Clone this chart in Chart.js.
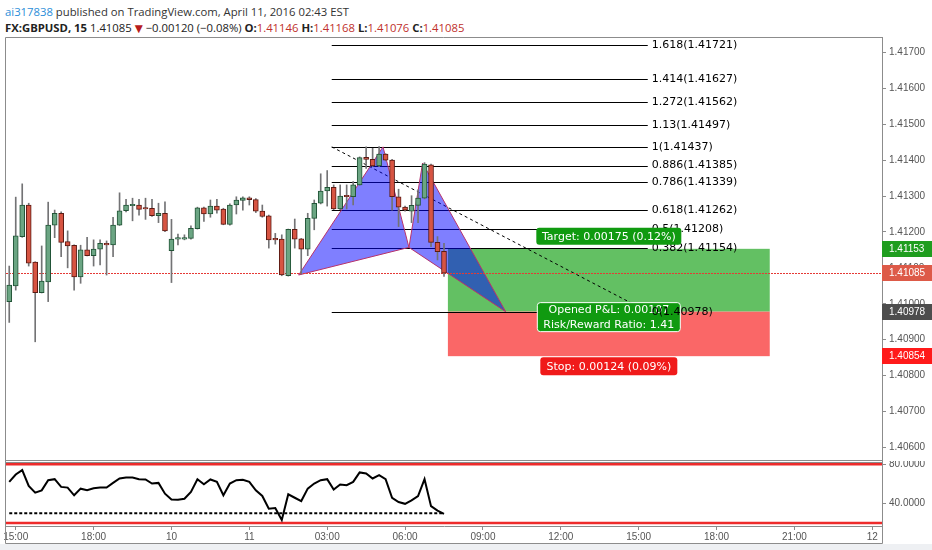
<!DOCTYPE html>
<html>
<head>
<meta charset="utf-8">
<script src="https://cdn.jsdelivr.net/npm/chart.js@4.4.0/dist/chart.umd.min.js"></script>
<style>
  body { margin: 0; width: 932px; height: 550px; overflow: hidden; position: relative; background: #fff; }
  .hdr { position: absolute; left: 5px; font-family: "Open Sans", "DejaVu Sans", sans-serif; font-size: 11.3px; color: #333; white-space: nowrap; }
  #h1 { top: 4px; }
  #h2 { top: 20px; color: #222; }
  #h2 b { font-weight: 700; }
  .user { color: #2b8ed8; }
  .r { color: #c0302b; }
  .dn { color: #b71c1c; font-family: "DejaVu Sans", sans-serif; font-size: 10.5px; }
  #main { position: absolute; left: 0; top: 37px; }
  #rsi { position: absolute; left: 0; top: 461px; }
  #foot { position: absolute; left: 0; top: 544px; width: 932px; height: 6px; background: #eef0f3; }
</style>
</head>
<body>
<div id="h1" class="hdr"><span class="user">ai317838</span> published on TradingView.com, April 11, 2016 02:43 EST</div>
<div id="h2" class="hdr"><b>FX:GBPUSD, 15</b> 1.41085 <span class="dn">▼</span> −0.00120 (−0.08%) <b>O:</b><span class="r">1.41146</span> <b>H:</b><span class="r">1.41168</span> <b>L:</b><span class="r">1.41076</span> <b>C:</b><span class="r">1.41085</span></div>
<canvas id="main" width="932" height="424"></canvas>
<canvas id="rsi" width="932" height="83"></canvas>
<div id="foot"></div>
<script>
// time axis: one unit = one 15 minute bar
const tickIdx = [1, 13, 25, 37, 49, 61, 73, 85, 97, 109, 121, 133];
const tickLabels = ['15:00', '18:00', '10', '11', '03:00', '06:00', '09:00', '12:00', '15:00', '18:00', '21:00', '12'];
const yTicks = [1.406, 1.407, 1.408, 1.409, 1.410, 1.411, 1.412, 1.413, 1.414, 1.415, 1.416, 1.417];
const rsiTicks = [40, 80];

// candles
const opens = [1.41006, 1.41050, 1.41187, 1.41275, 1.41116, 1.41031, 1.41061, 1.41219, 1.41252, 1.41173,
  1.41163, 1.41075, 1.41150, 1.41134, 1.41152, 1.41167, 1.41164, 1.41219, 1.41259, 1.41273,
  1.41275, 1.41266, 1.41266, 1.41245, 1.41252, 1.41148, 1.41180, 1.41180, 1.41182, 1.41209,
  1.41267, 1.41250, 1.41272, 1.41264, 1.41221, 1.41275, 1.41288, 1.41295, 1.41290, 1.41258,
  1.41245, 1.41180, 1.41180, 1.41078, 1.41207, 1.41181, 1.41152, 1.41238, 1.41280, 1.41314,
  1.41324, 1.41264, 1.41301, 1.41298, 1.41331, 1.41408, 1.41402, 1.41384, 1.41417, 1.41400,
  1.41298, 1.41269, 1.41258, 1.41274, 1.41294, 1.41387, 1.41171, 1.41146];
const highs = [1.41105, 1.41297, 1.41334, 1.41280, 1.41117, 1.41161, 1.41283, 1.41261, 1.41256, 1.41203,
  1.41164, 1.41163, 1.41185, 1.41178, 1.41178, 1.41175, 1.41241, 1.41309, 1.41291, 1.41294,
  1.41291, 1.41294, 1.41291, 1.41280, 1.41284, 1.41235, 1.41194, 1.41192, 1.41217, 1.41269,
  1.41269, 1.41289, 1.41291, 1.41266, 1.41278, 1.41298, 1.41298, 1.41298, 1.41293, 1.41275,
  1.41247, 1.41196, 1.41192, 1.41208, 1.41236, 1.41182, 1.41252, 1.41289, 1.41362, 1.41371,
  1.41331, 1.41331, 1.41331, 1.41340, 1.41409, 1.41437, 1.41433, 1.41438, 1.41418, 1.41402,
  1.41319, 1.41272, 1.41301, 1.41317, 1.41393, 1.41389, 1.41187, 1.41168];
const lows = [1.40948, 1.41038, 1.41185, 1.41105, 1.40894, 1.41030, 1.41006, 1.41184, 1.41131, 1.41100,
  1.41038, 1.41057, 1.41133, 1.41105, 1.41108, 1.41080, 1.41131, 1.41218, 1.41256, 1.41231,
  1.41247, 1.41235, 1.41243, 1.41226, 1.41201, 1.41059, 1.41164, 1.41178, 1.41180, 1.41208,
  1.41229, 1.41241, 1.41252, 1.41220, 1.41219, 1.41250, 1.41261, 1.41275, 1.41254, 1.41241,
  1.41155, 1.41166, 1.41078, 1.41077, 1.41155, 1.41083, 1.41134, 1.41206, 1.41278, 1.41272,
  1.41262, 1.41262, 1.41264, 1.41275, 1.41330, 1.41377, 1.41382, 1.41382, 1.41398, 1.41261,
  1.41215, 1.41258, 1.41226, 1.41226, 1.41292, 1.41159, 1.41122, 1.41076];
const closes = [1.41052, 1.41189, 1.41275, 1.41113, 1.41031, 1.41063, 1.41219, 1.41252, 1.41171, 1.41161,
  1.41075, 1.41150, 1.41134, 1.41152, 1.41168, 1.41164, 1.41219, 1.41259, 1.41275, 1.41275,
  1.41263, 1.41264, 1.41245, 1.41252, 1.41203, 1.41180, 1.41182, 1.41184, 1.41210, 1.41267,
  1.41250, 1.41272, 1.41261, 1.41221, 1.41275, 1.41289, 1.41295, 1.41290, 1.41258, 1.41243,
  1.41178, 1.41178, 1.41080, 1.41207, 1.41180, 1.41152, 1.41238, 1.41280, 1.41314, 1.41324,
  1.41264, 1.41300, 1.41298, 1.41331, 1.41407, 1.41402, 1.41384, 1.41417, 1.41400, 1.41298,
  1.41269, 1.41261, 1.41274, 1.41294, 1.41389, 1.41171, 1.41145, 1.41085];

// lower pane oscillator
const rsi = [62.0, 69.6, 74.1, 57.9, 51.0, 53.4, 63.8, 64.8, 56.9, 56.2,
  48.3, 55.1, 53.4, 55.5, 56.2, 56.2, 61.0, 65.5, 66.5, 66.5,
  64.8, 64.5, 60.3, 61.0, 50.0, 44.1, 43.8, 44.8, 51.7, 64.8,
  59.6, 64.5, 62.0, 48.3, 60.3, 63.8, 64.1, 62.0, 53.4, 47.6,
  34.5, 35.2, 23.1, 49.3, 45.8, 42.4, 55.1, 60.3, 63.8, 64.8,
  54.1, 59.3, 58.6, 62.0, 71.7, 70.7, 65.5, 68.9, 64.8, 45.8,
  41.4, 39.6, 43.1, 47.6, 64.8, 37.2, 32.7, 29.3];
const rsiBands = [80, 20];
const rsiDotted = 30;

// drawings
const fibRatios = ['1.618', '1.414', '1.272', '1.13', '1', '0.886', '0.786', '0.618', '0.5', '0.382', '0'];
const fibPrices = [1.41721, 1.41627, 1.41562, 1.41497, 1.41437, 1.41385, 1.41339, 1.41262, 1.41208, 1.41154, 1.40978];
const fibRange = [49.7, 98.4];
const patternIdx = [44.6, 57.6, 61.6, 63.7, 76.5];      // X A B C D
const patternPrices = [1.41080, 1.41437, 1.41157, 1.41392, 1.40978];
const posRange = [67.6, 117.2];
const entryPrice = 1.40978;
const targetPrice = 1.41153;
const stopPrice = 1.40854;
const lastPrice = 1.41085;

const FRAME = '#8c8c8c';
Chart.defaults.font.family = '"Liberation Sans", Arial, sans-serif';
Chart.defaults.font.size = 10;
Chart.defaults.color = '#555';

const idx = opens.map((_, i) => i);
const isUp = idx.map(i => closes[i] >= opens[i]);

// no extra room for the end labels, so both panes share the same x mapping
function noPadY(s) { s.width = 50; s.paddingTop = 0; s.paddingBottom = 0; }
function noPadX(s) { s.height = 18; s.paddingLeft = 0; s.paddingRight = 0; }

function roundRect(ctx, x, y, w, h, r) {
  ctx.beginPath();
  ctx.moveTo(x + r, y);
  ctx.arcTo(x + w, y, x + w, y + h, r);
  ctx.arcTo(x + w, y + h, x, y + h, r);
  ctx.arcTo(x, y + h, x, y, r);
  ctx.arcTo(x, y, x + w, y, r);
  ctx.closePath();
}

function textBox(ctx, cx, top, w, h, bg, lines, border) {
  roundRect(ctx, cx - w / 2, top, w, h, 3);
  ctx.fillStyle = bg;
  ctx.fill();
  if (border) { ctx.strokeStyle = border; ctx.lineWidth = 1; ctx.stroke(); }
  ctx.fillStyle = '#fff';
  ctx.font = '11px "DejaVu Sans", sans-serif';
  ctx.textAlign = 'center';
  ctx.textBaseline = 'middle';
  const step = h / lines.length;
  lines.forEach((t, i) => ctx.fillText(t, cx, top + step * (i + 0.5) + 0.5));
}

const drawings = {
  id: 'drawings',
  beforeDatasetsDraw(chart) {
    const { ctx, chartArea: a, scales: { x, y } } = chart;
    const px = v => x.getPixelForValue(v), py = v => y.getPixelForValue(v);
    ctx.save();
    ctx.beginPath();
    ctx.rect(a.left, a.top, a.right - a.left, a.bottom - a.top);
    ctx.clip();

    // long position zones
    const zl = px(posRange[0]), zr = px(posRange[1]);
    ctx.fillStyle = '#63c063';
    ctx.fillRect(zl, py(targetPrice), zr - zl, py(entryPrice) - py(targetPrice));
    ctx.fillStyle = '#fa6767';
    ctx.fillRect(zl, py(entryPrice), zr - zl, py(stopPrice) - py(entryPrice));

    // fib levels
    ctx.strokeStyle = '#000';
    ctx.lineWidth = 1;
    fibPrices.forEach(p => {
      const yy = Math.round(py(p)) + 0.5;
      ctx.beginPath();
      ctx.moveTo(px(fibRange[0]), yy);
      ctx.lineTo(px(fibRange[1]), yy);
      ctx.stroke();
    });
    ctx.setLineDash([3, 3]);
    ctx.beginPath();
    ctx.moveTo(px(fibRange[0]), py(fibPrices[4]));
    ctx.lineTo(px(fibRange[1]), py(fibPrices[10]));
    ctx.stroke();
    ctx.setLineDash([]);

    // XABCD pattern
    const P = patternIdx.map((v, i) => [px(v), py(patternPrices[i])]);
    ctx.fillStyle = 'rgba(0, 0, 255, 0.5)';
    [[0, 1, 2], [2, 3, 4]].forEach(t => {
      ctx.beginPath();
      ctx.moveTo(P[t[0]][0], P[t[0]][1]);
      ctx.lineTo(P[t[1]][0], P[t[1]][1]);
      ctx.lineTo(P[t[2]][0], P[t[2]][1]);
      ctx.closePath();
      ctx.fill();
    });
    ctx.strokeStyle = '#b8336a';
    ctx.lineWidth = 1;
    [[0, 1], [1, 2], [2, 3], [3, 4], [0, 2], [2, 4]].forEach(s => {
      ctx.beginPath();
      ctx.moveTo(P[s[0]][0], P[s[0]][1]);
      ctx.lineTo(P[s[1]][0], P[s[1]][1]);
      ctx.stroke();
    });

    // last price line
    ctx.strokeStyle = '#e53935';
    ctx.setLineDash([2, 1]);
    const ly = Math.round(py(lastPrice)) + 0.5;
    ctx.beginPath();
    ctx.moveTo(a.left, ly);
    ctx.lineTo(a.right, ly);
    ctx.stroke();
    ctx.restore();
  },
  afterDatasetsDraw(chart) {
    const { ctx, scales: { x, y } } = chart;
    const px = v => x.getPixelForValue(v), py = v => y.getPixelForValue(v);
    const zc = (px(posRange[0]) + px(posRange[1])) / 2;
    const tgt = targetPrice - entryPrice, stp = entryPrice - stopPrice;
    ctx.save();
    textBox(ctx, zc, py(entryPrice) - 9, 143, 29, '#109a10',
      ['Opened P&L: ' + (lastPrice - entryPrice).toFixed(5), 'Risk/Reward Ratio: ' + (tgt / stp).toFixed(2)], '#fff');

    ctx.fillStyle = '#000';
    ctx.font = '11px "DejaVu Sans", sans-serif';
    ctx.textAlign = 'left';
    ctx.textBaseline = 'middle';
    fibPrices.forEach((p, i) => {
      ctx.fillText(fibRatios[i] + '(' + p.toFixed(5) + ')', px(fibRange[1]) + 4, py(p));
    });

    textBox(ctx, zc, py(targetPrice) - 21, 145, 17, '#109a10',
      ['Target: ' + tgt.toFixed(5) + ' (' + (tgt / entryPrice * 100).toFixed(2) + '%)']);
    textBox(ctx, zc, py(stopPrice) + 1, 137, 18, '#f01a1a',
      ['Stop: ' + stp.toFixed(5) + ' (' + (stp / entryPrice * 100).toFixed(2) + '%)']);
    ctx.restore();
  },
  afterDraw(chart) {
    const { ctx, chartArea: a, scales: { y } } = chart;
    ctx.save();
    [[targetPrice, '#1f9d1f'], [lastPrice, '#dd5a48'], [entryPrice, '#4d4d4d'], [stopPrice, '#ff1a1a']].forEach(([p, c]) => {
      const yy = Math.round(y.getPixelForValue(p));
      ctx.fillStyle = c;
      ctx.fillRect(a.right, yy - 8, 50, 16);
      ctx.fillStyle = '#fff';
      ctx.font = '10px "Liberation Sans", Arial, sans-serif';
      ctx.textAlign = 'left';
      ctx.textBaseline = 'middle';
      ctx.fillText(p.toFixed(5), a.right + 7, yy);
    });
    ctx.strokeStyle = FRAME;
    ctx.lineWidth = 1;
    ctx.beginPath();
    ctx.moveTo(a.left - 0.5, chart.height);
    ctx.lineTo(a.left - 0.5, 0.5);
    ctx.lineTo(a.right, 0.5);
    ctx.moveTo(a.left, a.bottom - 0.5);
    ctx.lineTo(a.right, a.bottom - 0.5);
    ctx.stroke();
    ctx.restore();
  }
};

new Chart(document.getElementById('main'), {
  type: 'bar',
  data: {
    datasets: [
      {
        data: idx.map(i => ({ x: i, y: [opens[i], closes[i]] })),
        backgroundColor: isUp.map(u => u ? '#6ba583' : '#d75442'),
        borderColor: isUp.map(u => u ? '#225437' : '#5b1a13'),
        borderWidth: 1, borderSkipped: false, barThickness: 5, minBarLength: 1.5,
        grouped: false, order: 0
      },
      {
        data: idx.map(i => ({ x: i, y: [lows[i], highs[i]] })),
        backgroundColor: '#737375', barThickness: 1, grouped: false, order: 1
      }
    ]
  },
  options: {
    responsive: false,
    animation: false,
    layout: { padding: { left: 6 } },
    plugins: { legend: { display: false }, tooltip: { enabled: false } },
    scales: {
      x: { type: 'linear', min: -0.5, max: 134.5, offset: false, display: false },
      y: {
        position: 'right', min: 1.40562, max: 1.41743,
        afterFit: noPadY,
        afterBuildTicks: s => { s.ticks = yTicks.map(v => ({ value: v })); },
        grid: { drawOnChartArea: false, tickLength: 4, color: FRAME },
        border: { color: FRAME },
        ticks: { callback: v => v.toFixed(5), padding: 3 }
      }
    }
  },
  plugins: [drawings]
});

const rsiDecor = {
  id: 'rsiDecor',
  beforeDatasetsDraw(chart) {
    const { ctx, chartArea: a, scales: { y } } = chart;
    ctx.save();
    ctx.strokeStyle = '#ee2b2b';
    ctx.lineWidth = 2.5;
    rsiBands.forEach(v => {
      const yy = y.getPixelForValue(v);
      ctx.beginPath();
      ctx.moveTo(a.left, yy);
      ctx.lineTo(a.right, yy);
      ctx.stroke();
    });
    ctx.restore();
  },
  afterDraw(chart) {
    const { ctx, chartArea: a } = chart;
    ctx.save();
    ctx.strokeStyle = FRAME;
    ctx.lineWidth = 1;
    ctx.beginPath();
    ctx.moveTo(a.left - 0.5, 0);
    ctx.lineTo(a.left - 0.5, chart.height - 0.5);
    ctx.lineTo(a.right + 0.5, chart.height - 0.5);
    ctx.lineTo(a.right + 0.5, a.bottom);
    ctx.moveTo(a.left, 1.5);
    ctx.lineTo(a.right, 1.5);
    ctx.stroke();
    ctx.restore();
  }
};

new Chart(document.getElementById('rsi'), {
  type: 'line',
  data: {
    datasets: [
      { data: rsi.map((v, i) => ({ x: i, y: v })), borderColor: '#000', borderWidth: 2, pointRadius: 0 },
      { data: idx.map(i => ({ x: i, y: rsiDotted })), borderColor: '#000', borderWidth: 2, borderDash: [3, 2], pointRadius: 0 }
    ]
  },
  options: {
    responsive: false,
    animation: false,
    layout: { padding: { left: 6 } },
    plugins: { legend: { display: false }, tooltip: { enabled: false } },
    scales: {
      x: {
        type: 'linear', min: -0.5, max: 134.5, offset: false,
        afterFit: noPadX,
        afterBuildTicks: s => { s.ticks = tickIdx.map(v => ({ value: v })); },
        grid: { drawOnChartArea: false, tickLength: 4, color: FRAME },
        border: { color: FRAME },
        ticks: { callback: (v, i) => tickLabels[i], autoSkip: false, maxRotation: 0, padding: 1 }
      },
      y: {
        position: 'right', min: 16.9, max: 83.4,
        afterFit: noPadY,
        afterBuildTicks: s => { s.ticks = rsiTicks.map(v => ({ value: v })); },
        grid: { drawOnChartArea: false, tickLength: 4, color: FRAME },
        border: { color: FRAME },
        ticks: { callback: v => v.toFixed(4), padding: 3 }
      }
    }
  },
  plugins: [rsiDecor]
});
</script>
</body>
</html>
